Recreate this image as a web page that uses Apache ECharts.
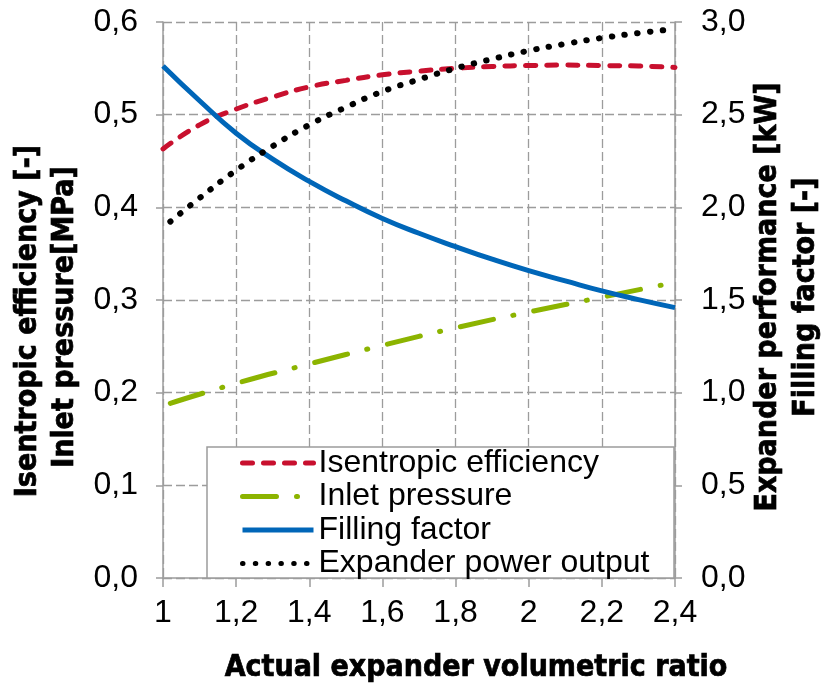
<!DOCTYPE html>
<html>
<head>
<meta charset="utf-8">
<title>Expander volumetric ratio</title>
<script src="https://cdn.jsdelivr.net/npm/echarts@6/dist/echarts.min.js"></script>
<style>
  html, body { margin: 0; padding: 0; background: #fff; }
  #chart { width: 821px; height: 684px; }
</style>
</head>
<body>
<div id="chart"></div>
<script>
  // x values (actual expander volumetric ratio)
  var ratioFine = [1.0, 1.1, 1.2, 1.3, 1.4, 1.5, 1.6, 1.7, 1.8, 1.9, 2.0, 2.1, 2.2, 2.3, 2.4];
  var ratioPower = [1.02, 1.1, 1.2, 1.3, 1.4, 1.5, 1.6, 1.7, 1.8, 1.9, 2.0, 2.1, 2.2, 2.3, 2.4];
  var ratioPressure = [1.02, 1.2, 1.4, 1.6, 1.8, 2.0, 2.2, 2.4];

  // left axis series
  var isentropicEff = [0.463, 0.489, 0.506, 0.519, 0.530, 0.537, 0.543, 0.547, 0.550, 0.552, 0.553, 0.5535, 0.553, 0.5525, 0.551];
  var inletPressure = [0.1885, 0.210, 0.231, 0.251, 0.270, 0.287, 0.303, 0.319];

  // right axis series
  var fillingFactor = [2.763, 2.575, 2.40, 2.26, 2.14, 2.035, 1.94, 1.86, 1.788, 1.72, 1.658, 1.603, 1.549, 1.502, 1.459];
  var powerOutput = [1.923, 2.05, 2.20, 2.33, 2.445, 2.54, 2.625, 2.69, 2.75, 2.80, 2.845, 2.882, 2.914, 2.94, 2.962];

  var seriesNames = ['Isentropic efficiency', 'Inlet pressure', 'Filling factor', 'Expander power output'];

  var titleFont = "'DejaVu Sans Condensed', 'DejaVu Sans', sans-serif";
  var tickFont = "'Liberation Sans', Arial, sans-serif";
  var gray = '#9c9c9c';

  function pairs(xs, ys) {
    var out = [];
    for (var i = 0; i < ys.length; i++) {
      out.push([xs[i], ys[i]]);
    }
    return out;
  }

  function comma(v, digits) {
    var s = digits == null ? String(Math.round(v * 10) / 10) : v.toFixed(digits);
    return s.replace('.', ',');
  }

  // bold axis title, drawn a little heavier with a thin stroke
  function title(text, x, y, rotated) {
    return {
      type: 'text',
      x: x,
      y: y,
      rotation: rotated ? Math.PI / 2 : 0,
      style: {
        text: text,
        fontFamily: titleFont,
        fontWeight: 'bold',
        fontSize: 30,
        fill: '#000',
        stroke: '#000',
        lineWidth: 0.7,
        align: 'center',
        verticalAlign: 'middle'
      }
    };
  }

  var chart = echarts.init(document.getElementById('chart'), null, { renderer: 'canvas' });

  var option = {
    animation: false,
    backgroundColor: '#fff',
    grid: { left: 163, right: 146, top: 22, bottom: 106, outerBoundsMode: 'none' },
    xAxis: {
      type: 'value',
      min: 1,
      max: 2.4,
      interval: 0.2,
      axisLine: { show: true, lineStyle: { color: gray, width: 1.5 } },
      axisTick: { show: true, length: 9, lineStyle: { color: gray, width: 1.5 } },
      axisLabel: {
        margin: 19,
        color: '#000',
        fontFamily: tickFont,
        fontSize: 32,
        formatter: function (v) { return comma(v); }
      },
      splitLine: { show: true, lineStyle: { color: gray, width: 1.3, type: [9, 4] } }
    },
    yAxis: [
      {
        type: 'value',
        min: 0,
        max: 0.6,
        interval: 0.1,
        position: 'left',
        axisLine: { show: true, lineStyle: { color: gray, width: 1.5 } },
        axisTick: { show: true, length: 7, lineStyle: { color: gray, width: 1.5 } },
        axisLabel: {
          margin: 25,
          color: '#000',
          fontFamily: tickFont,
          fontSize: 32,
          formatter: function (v) { return comma(v, 1); }
        },
        splitLine: { show: true, lineStyle: { color: gray, width: 1.3, type: [9, 4] } }
      },
      {
        type: 'value',
        min: 0,
        max: 3,
        interval: 0.5,
        position: 'right',
        axisLine: { show: true, lineStyle: { color: gray, width: 1.5 } },
        axisTick: { show: true, length: 7, lineStyle: { color: gray, width: 1.5 } },
        axisLabel: {
          margin: 26,
          color: '#000',
          fontFamily: tickFont,
          fontSize: 32,
          formatter: function (v) { return comma(v, 1); }
        },
        splitLine: { show: false }
      }
    ],
    legend: {
      data: seriesNames,
      orient: 'vertical',
      left: 207,
      top: 447,
      padding: [0, 0, 0, 33],
      itemGap: 1.5,
      itemWidth: 71,
      itemHeight: 12,
      z: 5,
      itemStyle: { opacity: 0 },
      lineStyle: { width: 5 },
      textStyle: {
        color: '#000',
        fontFamily: tickFont,
        fontSize: 32,
        lineHeight: 32
      }
    },
    graphic: [
      {
        type: 'rect',
        z: 3,
        shape: { x: 207, y: 447, width: 467, height: 131 },
        style: { fill: '#fff', stroke: gray, lineWidth: 1.5 }
      },
      title('Isentropic efficiency [-]', 28, 321, true),
      title('Inlet pressure[MPa]', 65, 317, true),
      title('Expander performance [kW]', 768, 297, true),
      title('Filling factor [-]', 806, 297, true),
      title('Actual expander volumetric ratio', 476, 668, false)
    ],
    series: [
      {
        name: seriesNames[0],
        type: 'line',
        yAxisIndex: 0,
        smooth: true,
        symbol: 'none',
        data: pairs(ratioFine, isentropicEff),
        itemStyle: { color: '#c8102e' },
        lineStyle: { color: '#c8102e', width: 5, type: [10, 11], cap: 'round' }
      },
      {
        name: seriesNames[1],
        type: 'line',
        yAxisIndex: 0,
        smooth: true,
        symbol: 'none',
        data: pairs(ratioPressure, inletPressure),
        itemStyle: { color: '#8cb400' },
        lineStyle: { color: '#8cb400', width: 5, type: [34, 20, 1, 20], cap: 'round' }
      },
      {
        name: seriesNames[2],
        type: 'line',
        yAxisIndex: 1,
        smooth: true,
        symbol: 'none',
        data: pairs(ratioFine, fillingFactor),
        itemStyle: { color: '#0066b8' },
        lineStyle: { color: '#0066b8', width: 5 }
      },
      {
        name: seriesNames[3],
        type: 'line',
        yAxisIndex: 1,
        smooth: true,
        symbol: 'none',
        data: pairs(ratioPower, powerOutput),
        itemStyle: { color: '#000' },
        lineStyle: { color: '#000', width: 6, type: [0.5, 12.3], cap: 'round' }
      }
    ]
  };

  chart.setOption(option);
</script>
</body>
</html>
